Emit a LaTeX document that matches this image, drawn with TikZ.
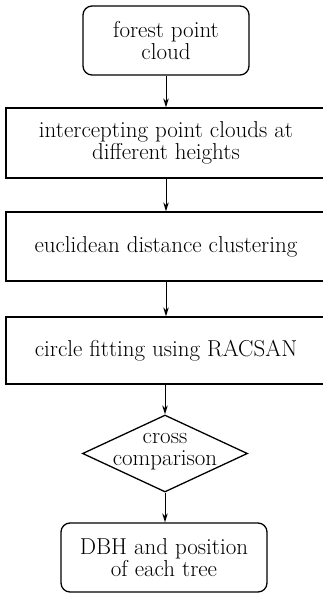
\documentclass[tikz,border=0pt]{standalone}
\usetikzlibrary{shapes.geometric,arrows.meta}
\begin{document}
\begin{tikzpicture}[x=1pt,y=-1pt,
  every node/.style={font=\fontsize{23}{22}\selectfont, align=center, inner sep=0pt},
  boxed/.style={draw, line width=1.3pt, rectangle},
  rbox/.style={boxed, rounded corners=9pt},
  decision/.style={draw, line width=1.3pt, diamond, inner sep=0pt},
  flow/.style={line width=1pt, -{Stealth[length=9pt,width=5.5pt]}}]
\useasboundingbox (0,0) rectangle (323,594);
% process boxes
\node[rbox, minimum width=166pt, minimum height=69pt] (src) at (166,40.5) {forest point\\cloud};
\node[boxed, minimum width=320pt, minimum height=70pt] (cut) at (166,143) {intercepting point clouds at\\different heights};
\node[boxed, minimum width=320pt, minimum height=69pt] (clu) at (166,246.5) {euclidean distance clustering};
\node[boxed, minimum width=320pt, minimum height=67pt] (fit) at (166,350.5) {circle fitting using RACSAN};
% decision
\node[decision, minimum width=165pt, minimum height=77pt] (cmp) at (165,453.5) {};
\node (cmptxt) at (165,452) {cross\\comparison};
% result
\node[rbox, minimum width=206pt, minimum height=69pt] (res) at (164,557.5) {DBH and position\\of each tree};
% connectors
\draw[flow] (src.south) -- (src.south |- cut.north);
\draw[flow] (cut.south) -- (cut.south |- clu.north);
\draw[flow] (clu.south) -- (clu.south |- fit.north);
\draw[flow] (cmp.north |- fit.south) -- (cmp.north);
\draw[flow] (cmp.south) -- (cmp.south |- res.north);
\end{tikzpicture}
\end{document}
